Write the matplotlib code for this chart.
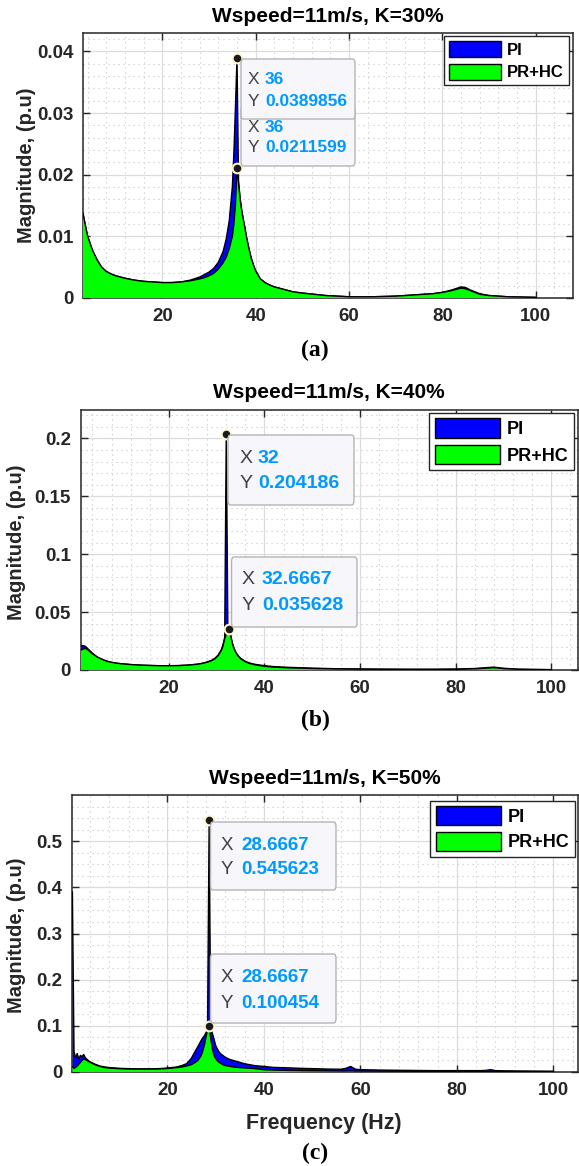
import matplotlib
matplotlib.use("Agg")
import matplotlib.pyplot as plt
from matplotlib.patches import FancyBboxPatch, Patch
from matplotlib.ticker import AutoMinorLocator

plt.rcParams['font.family'] = ['Liberation Sans', 'DejaVu Sans']

# ---------------- data ----------------
# Panel (a): K=30%
freq_a = [3, 3.5, 4, 5, 6, 7, 8, 9, 10, 12, 14, 16, 18, 20, 22, 24, 26, 28, 29, 30, 31, 32, 33,
          33.67, 34.33, 35, 35.33, 35.67, 36, 36.33, 36.67, 37, 37.33, 37.67, 38, 38.5, 39, 39.5,
          40, 41, 42, 43, 44, 46, 48, 50, 55, 60, 65, 70, 74, 78, 80, 82, 84, 85, 86, 88, 90, 94, 100]
pi_a = [0.0137, 0.0118, 0.0100, 0.0078, 0.0062, 0.0050, 0.0043, 0.0039, 0.0036, 0.0032, 0.0029,
        0.0027, 0.0026, 0.0025, 0.0025, 0.0026, 0.0029, 0.0034, 0.0038, 0.0042, 0.0048, 0.0058,
        0.0075, 0.0095, 0.0125, 0.0180, 0.0235, 0.0310, 0.0389856, 0.0190, 0.0162, 0.0143,
        0.0128, 0.0115, 0.0100, 0.0082, 0.0066, 0.0054, 0.0044, 0.0031, 0.0025, 0.0021, 0.0018,
        0.0014, 0.0010, 0.0008, 0.0004, 0.0002, 0.0002, 0.0003, 0.0005, 0.0007, 0.0009, 0.0013,
        0.0018, 0.0017, 0.0013, 0.0007, 0.0004, 0.0002, 0.0001]
prhc_a = [0.0137, 0.0118, 0.0100, 0.0078, 0.0062, 0.0050, 0.0043, 0.0039, 0.0036, 0.0032, 0.0029,
          0.0027, 0.0026, 0.0025, 0.0025, 0.0026, 0.0028, 0.0031, 0.0033, 0.0036, 0.0040, 0.0047,
          0.0057, 0.0066, 0.0080, 0.0100, 0.0120, 0.0152, 0.0211599, 0.0185, 0.0160, 0.0142,
          0.0128, 0.0115, 0.0100, 0.0082, 0.0066, 0.0054, 0.0044, 0.0031, 0.0025, 0.0021, 0.0018,
          0.0014, 0.0010, 0.0008, 0.0004, 0.0002, 0.0002, 0.0003, 0.0005, 0.0007, 0.0009, 0.0012,
          0.0016, 0.0015, 0.0012, 0.0006, 0.0004, 0.0002, 0.0001]

# Panel (b): K=40%
freq_b = [1.5, 2, 2.5, 3, 4, 5, 6, 7, 8, 9, 10, 12, 14, 16, 18, 20, 22, 24, 26, 27, 28, 29, 29.67,
          30.33, 31, 31.33, 31.67, 32, 32.33, 32.67, 33, 33.33, 33.67, 34, 34.5, 35, 36, 37, 38, 40,
          42, 45, 50, 55, 60, 65, 70, 75, 80, 84, 86, 88, 90, 93, 96, 100]
pi_b = [0.0205, 0.0212, 0.0205, 0.0185, 0.0145, 0.0112, 0.0092, 0.0076, 0.0066, 0.0059, 0.0054,
        0.0047, 0.0042, 0.0039, 0.0037, 0.0037, 0.0038, 0.0042, 0.0050, 0.0058, 0.0069, 0.0085,
        0.0103, 0.0130, 0.0178, 0.0220, 0.0280, 0.204186, 0.0400, 0.035628, 0.0283, 0.0223,
        0.0183, 0.0153, 0.0123, 0.0101, 0.0074, 0.0059, 0.0049, 0.0037, 0.0029, 0.0023, 0.0016,
        0.0011, 0.0009, 0.0007, 0.0006, 0.0006, 0.0008, 0.0013, 0.0019, 0.0025, 0.0015, 0.0007,
        0.0005, 0.0003]
prhc_b = [0.0170, 0.0180, 0.0187, 0.0175, 0.0140, 0.0112, 0.0092, 0.0076, 0.0066, 0.0059, 0.0054,
          0.0047, 0.0042, 0.0039, 0.0037, 0.0037, 0.0038, 0.0042, 0.0050, 0.0057, 0.0067, 0.0082,
          0.0098, 0.0125, 0.0170, 0.0210, 0.0270, 0.0310, 0.0340, 0.035628, 0.0280, 0.0220,
          0.0180, 0.0150, 0.0120, 0.0098, 0.0070, 0.0055, 0.0045, 0.0032, 0.0025, 0.0019, 0.0013,
          0.0009, 0.0007, 0.0006, 0.0005, 0.0005, 0.0006, 0.0010, 0.0015, 0.0020, 0.0012, 0.0006,
          0.0004, 0.0003]

# Panel (c): K=50%
freq_c = [0.33, 0.67, 1, 1.33, 1.67, 2, 2.33, 2.67, 3, 3.5, 4, 5, 6, 7, 8, 10, 12, 14, 16, 18, 20,
          22, 23, 24, 25, 25.67, 26.33, 27, 27.33, 27.67, 28, 28.33, 28.67, 29, 29.33, 29.67, 30,
          30.5, 31, 31.5, 32, 33, 34, 35, 36, 38, 40, 42, 45, 48, 50, 54, 56, 57, 58, 59, 60, 65,
          70, 75, 80, 85, 86, 87, 88, 90, 95, 100]
pi_c = [0.39, 0.045, 0.030, 0.040, 0.028, 0.036, 0.033, 0.038, 0.031, 0.026, 0.022, 0.017, 0.013,
        0.011, 0.0095, 0.008, 0.0072, 0.0068, 0.0068, 0.0072, 0.0085, 0.011, 0.014, 0.018, 0.030,
        0.043, 0.055, 0.068, 0.074, 0.078, 0.085, 0.090, 0.545623, 0.095, 0.084, 0.072, 0.058,
        0.047, 0.040, 0.036, 0.032, 0.027, 0.024, 0.021, 0.018, 0.014, 0.012, 0.010, 0.009,
        0.0078, 0.0073, 0.0062, 0.006, 0.008, 0.012, 0.006, 0.005, 0.004, 0.0035, 0.003, 0.003,
        0.003, 0.0035, 0.005, 0.003, 0.0025, 0.002, 0.0015]
prhc_c = [0.012, 0.008, 0.010, 0.013, 0.017, 0.021, 0.025, 0.028, 0.027, 0.024, 0.021, 0.016,
          0.012, 0.0098, 0.0085, 0.0072, 0.0065, 0.0062, 0.0062, 0.0065, 0.0075, 0.0095, 0.011,
          0.013, 0.016, 0.020, 0.025, 0.035, 0.045, 0.058, 0.075, 0.092, 0.100454, 0.072, 0.050,
          0.036, 0.029, 0.023, 0.019, 0.016, 0.014, 0.012, 0.0105, 0.0095, 0.0088, 0.0075, 0.005,
          0.0042, 0.0035, 0.003, 0.0028, 0.0024, 0.0022, 0.0022, 0.0024, 0.0021, 0.002, 0.0018,
          0.0016, 0.0015, 0.0014, 0.0013, 0.0013, 0.0014, 0.0013, 0.0012, 0.0011, 0.001]

titles = ["Wspeed=11m/s, K=30%", "Wspeed=11m/s, K=40%", "Wspeed=11m/s, K=50%"]
sublabels = ["(a)", "(b)", "(c)"]
series_names = ["PI", "PR+HC"]
yticks_a = [0, 0.01, 0.02, 0.03, 0.04]
yticks_b = [0, 0.05, 0.1, 0.15, 0.2]
yticks_c = [0, 0.1, 0.2, 0.3, 0.4, 0.5]
ytick_labels_a = ["0", "0.01", "0.02", "0.03", "0.04"]
ytick_labels_b = ["0", "0.05", "0.1", "0.15", "0.2"]
ytick_labels_c = ["0", "0.1", "0.2", "0.3", "0.4", "0.5"]
xticks = [20, 40, 60, 80, 100]
# data tips (x, y)
tips_a = [(36, 0.0389856), (36, 0.0211599)]
tips_b = [(32, 0.204186), (32.6667, 0.035628)]
tips_c = [(28.6667, 0.545623), (28.6667, 0.100454)]

# ---------------- layout ----------------
W, H = 579, 1166
fig = plt.figure(figsize=(W / 100, H / 100), dpi=100)


def fx(x):
    return x / W


def fy(y):
    return 1 - y / H


def axes_px(l, r, t, b):
    return fig.add_axes([fx(l), fy(b), (r - l) / W, (b - t) / H])


BLUE = (0, 0, 1)
GREEN = (0, 1, 0)
TIPBLUE = '#0099ff'
TIPGREY = '#404040'

panels = [
    dict(box=(83, 573, 33, 298), xlim=(3, 108), ylim=(0, 0.043), yt=yticks_a, ytl=ytick_labels_a,
         f=freq_a, pi=pi_a, pr=prhc_a, ymin=AutoMinorLocator(5), title_y=17, sub_y=350,
         ylab_x=27, ylab_y=165, leg=(569, 36), legfs=12, hl=3.1, hh=1.1, tips=tips_a, tipfs=12.5,
         # box order: lower (behind) box first
         boxes=[(241, 355, 106, 166, 127, 148, 248, 265, 1), (241, 355, 59, 119, 80, 101, 248, 265, 0)]),
    dict(box=(80.5, 578, 410, 670), xlim=(1.5, 105.6), ylim=(0, 0.2245), yt=yticks_b, ytl=ytick_labels_b,
         f=freq_b, pi=pi_b, pr=prhc_b, ymin=AutoMinorLocator(5), title_y=393, sub_y=720,
         ylab_x=17, ylab_y=542, leg=(574, 413), legfs=13, hl=3.6, hh=1.3, tips=tips_b, tipfs=14,
         boxes=[(228, 354, 435, 505, 459, 484, 240, 258, 0), (231.5, 357, 557, 627, 580, 606, 242, 262, 1)]),
    dict(box=(72, 578, 795, 1072), xlim=(0.25, 105.1), ylim=(0, 0.6), yt=yticks_c, ytl=ytick_labels_c,
         f=freq_c, pi=pi_c, pr=prhc_c, ymin=AutoMinorLocator(4), title_y=778, sub_y=1153,
         ylab_x=17, ylab_y=935, leg=(575, 801), legfs=13, hl=3.6, hh=1.2, tips=tips_c, tipfs=13.5,
         boxes=[(210.5, 336, 822, 890, 845, 870, 221, 241, 0), (210.5, 336, 954, 1023, 977, 1003, 221, 241, 1)]),
]

for i, p in enumerate(panels):
    l, r, t, b = p['box']
    ax = axes_px(l, r, t, b)
    ax.fill_between(p['f'], p['pi'], 0, facecolor=BLUE, edgecolor='none', zorder=2)
    ax.plot(p['f'], p['pi'], color='black', lw=1.0, zorder=3)
    ax.fill_between(p['f'], p['pr'], 0, facecolor=GREEN, edgecolor='none', zorder=4)
    ax.plot(p['f'], p['pr'], color='black', lw=1.0, zorder=5)
    ax.set_xlim(*p['xlim'])
    ax.set_ylim(*p['ylim'])
    ax.set_xticks(xticks)
    ax.set_xticklabels([str(v) for v in xticks])
    ax.set_yticks(p['yt'])
    ax.set_yticklabels(p['ytl'])
    ax.xaxis.set_minor_locator(AutoMinorLocator(5))
    ax.yaxis.set_minor_locator(p['ymin'])
    ax.grid(True, which='major', color='#dcdcdc', lw=0.9, zorder=0)
    ax.grid(True, which='minor', color='#c4c4c4', lw=0.8, ls=(0, (1, 3.5)), zorder=0)
    ax.set_axisbelow(True)
    ax.tick_params(which='major', direction='in', length=5, width=1, top=True, right=True,
                   labelsize=13.5, colors='#262626', pad=7)
    ax.tick_params(which='minor', length=0, top=True, right=True)
    for lab in ax.get_xticklabels() + ax.get_yticklabels():
        lab.set_fontweight('bold')
    for s in ax.spines.values():
        s.set_color('#262626')
        s.set_linewidth(1.1)
    fig.text(fx((l + r) / 2), fy(p['title_y']), titles[i], ha='center', va='center',
             fontsize=15, fontweight='bold', color='black')
    fig.text(fx(315), fy(p['sub_y']), sublabels[i], ha='center', va='center',
             fontsize=17, fontweight='bold', family='Liberation Serif')
    fig.text(fx(p['ylab_x']), fy(p['ylab_y']), "Magnitude, (p.u)", rotation=90,
             ha='center', va='center', fontsize=14.5, fontweight='bold', color='#262626')

    handles = [Patch(facecolor=BLUE, edgecolor='black', lw=1.0),
               Patch(facecolor=GREEN, edgecolor='black', lw=1.0)]
    leg = ax.legend(handles, series_names, loc='upper right',
                    bbox_to_anchor=(fx(p['leg'][0]), fy(p['leg'][1])),
                    bbox_transform=fig.transFigure, borderaxespad=0, fancybox=False,
                    frameon=True, edgecolor='#262626', framealpha=1,
                    prop=dict(weight='bold', size=p['legfs']), handlelength=p['hl'],
                    handleheight=p['hh'], labelspacing=0.35, borderpad=0.3, handletextpad=0.4)
    leg.get_frame().set_linewidth(1.0)
    leg.set_zorder(20)

    # data tip markers
    for (tx, tyv) in p['tips']:
        ax.plot([tx], [tyv], 'o', ms=7, mfc='#1a1a1a', mec='#fff8d0', mew=1.5, zorder=12,
                clip_on=False)

    # data tip boxes
    for k, (bl, br, bt, bb, rx, ry, lx, vx, ti) in enumerate(p['boxes']):
        box = FancyBboxPatch((fx(bl), fy(bb)), (br - bl) / W, (bb - bt) / H,
                             boxstyle="round,pad=0,rounding_size=0.004",
                             transform=fig.transFigure, facecolor='#f7f7fb',
                             edgecolor='#b4b4b4', lw=1.0, zorder=30 + 2 * k)
        fig.add_artist(box)
        xv, yv = p['tips'][ti]
        xs = f"{xv:g}" if abs(xv - round(xv)) < 1e-9 else f"{xv:.4f}"
        ys = f"{yv:g}"
        for (txt, xx, yy, col, wt) in [("X", lx, rx, TIPGREY, 'normal'), (xs, vx, rx, TIPBLUE, 'bold'),
                                       ("Y", lx, ry, TIPGREY, 'normal'), (ys, vx, ry, TIPBLUE, 'bold')]:
            fig.text(fx(xx), fy(yy), txt, ha='left', va='center', fontsize=p['tipfs'],
                     color=col, fontweight=wt, zorder=31 + 2 * k)

fig.text(fx(324), fy(1123), "Frequency (Hz)", ha='center', va='center', fontsize=15.5,
         fontweight='bold', color='#262626')

fig.savefig("out.png", dpi=100)
